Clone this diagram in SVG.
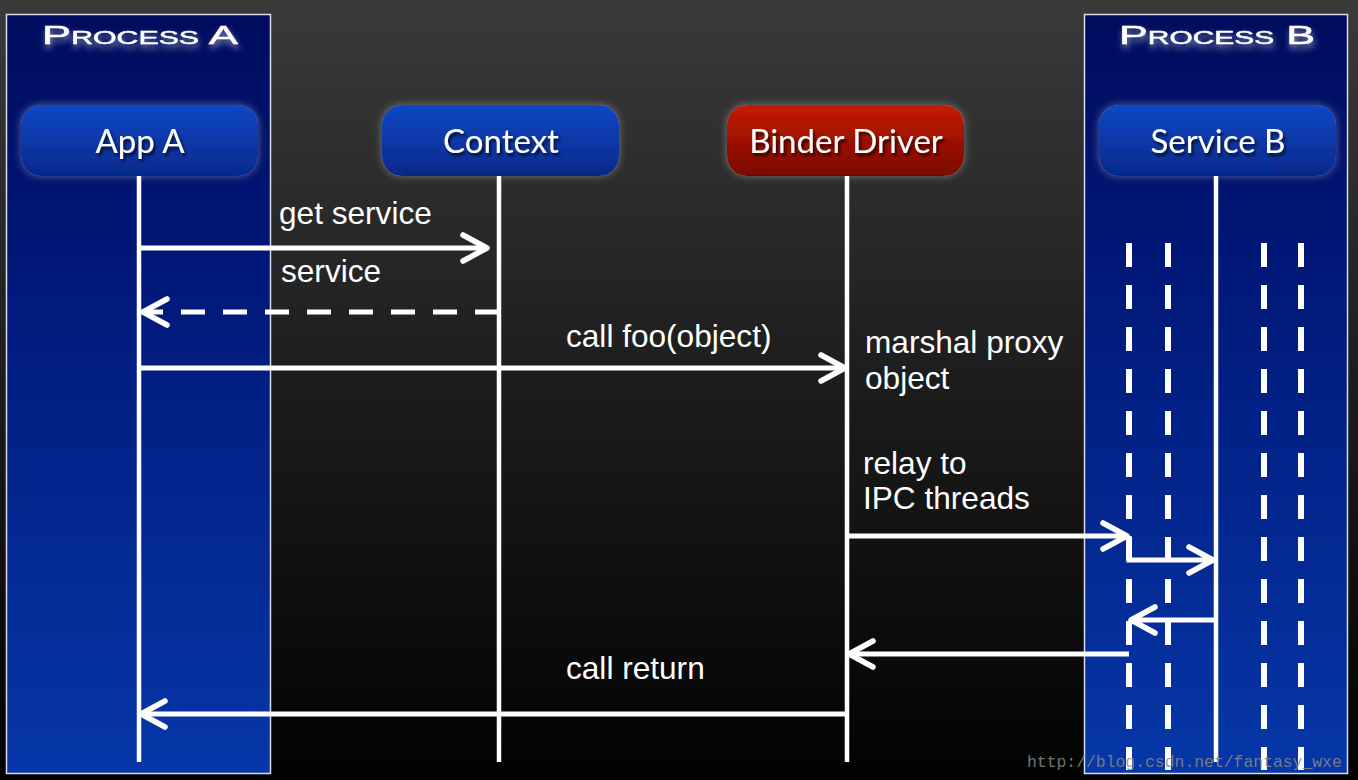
<svg xmlns="http://www.w3.org/2000/svg" width="1358" height="780" viewBox="0 0 1358 780">
<defs>
<linearGradient id="bg" x1="0" y1="0" x2="0" y2="1">
<stop offset="0" stop-color="#3a3a3a"/>
<stop offset="0.5" stop-color="#1c1c1c"/>
<stop offset="1" stop-color="#020202"/>
</linearGradient>
<linearGradient id="proc" x1="0" y1="0" x2="0" y2="1">
<stop offset="0" stop-color="#000d5e"/>
<stop offset="0.25" stop-color="#001472"/>
<stop offset="1" stop-color="#0637a8"/>
</linearGradient>
<linearGradient id="blue" x1="0" y1="0" x2="0" y2="1">
<stop offset="0" stop-color="#0c48c6"/>
<stop offset="1" stop-color="#06288a"/>
</linearGradient>
<linearGradient id="red" x1="0" y1="0" x2="0" y2="1">
<stop offset="0" stop-color="#c41c00"/>
<stop offset="1" stop-color="#780600"/>
</linearGradient>
<filter id="halo" x="-20%" y="-40%" width="140%" height="180%">
<feGaussianBlur in="SourceAlpha" stdDeviation="4"/>
<feComponentTransfer><feFuncA type="linear" slope="0.35"/></feComponentTransfer>
<feColorMatrix type="matrix" values="0 0 0 0 1  0 0 0 0 1  0 0 0 0 1  0 0 0 1 0"/>
<feMerge><feMergeNode/><feMergeNode in="SourceGraphic"/></feMerge>
</filter>
<filter id="tshadow" x="-10%" y="-30%" width="130%" height="170%">
<feGaussianBlur in="SourceAlpha" stdDeviation="1.5"/>
<feOffset dx="2" dy="3"/>
<feComponentTransfer><feFuncA type="linear" slope="0.7"/></feComponentTransfer>
<feMerge><feMergeNode/><feMergeNode in="SourceGraphic"/></feMerge>
</filter>
<filter id="tglow" x="-10%" y="-40%" width="120%" height="190%">
<feGaussianBlur in="SourceAlpha" stdDeviation="3"/>
<feOffset dx="1" dy="4"/>
<feComponentTransfer><feFuncA type="linear" slope="0.5"/></feComponentTransfer>
<feColorMatrix type="matrix" values="0 0 0 0 1  0 0 0 0 1  0 0 0 0 1  0 0 0 1 0"/>
<feMerge><feMergeNode/><feMergeNode in="SourceGraphic"/></feMerge>
</filter>
<marker id="arr" viewBox="0 0 32 32" refX="28" refY="16" markerWidth="32" markerHeight="32" markerUnits="userSpaceOnUse" orient="auto">
<path d="M4,3 L28,16 L4,29" fill="none" stroke="#fff" stroke-width="5.5" stroke-linecap="round" stroke-linejoin="round"/>
</marker>
</defs>
<style>
.proc{fill:url(#proc);stroke:#d8dcec;stroke-width:1.5}
.ptitle{font-family:"Liberation Sans",Arial,sans-serif;font-size:26px;fill:#fff;font-variant:small-caps;stroke:#fff;stroke-width:0.5}
.node text{font-family:Lato,"Open Sans",sans-serif;font-size:33px;fill:#fff;text-anchor:middle}
.life{stroke:#fff;stroke-width:4.5}
.dash{stroke:#fff;stroke-width:6;stroke-dasharray:24 18}
.msg{stroke:#fff;stroke-width:5;fill:none}
.lbl{font-family:"Liberation Sans",Arial,sans-serif;font-size:31.6px;fill:#fff}
.wm{font-family:"Liberation Mono","Courier New",monospace;font-size:16.4px;fill:#8a8a8a;fill-opacity:0.85}
</style>
<rect x="0" y="0" width="1358" height="780" fill="url(#bg)"/>

<g id="processA">
<rect class="proc" x="6.5" y="14.5" width="264" height="759"/>
<text class="ptitle" x="42" y="44" textLength="196" lengthAdjust="spacingAndGlyphs" filter="url(#tglow)">Process  A</text>
</g>
<g id="processB">
<rect class="proc" x="1084.5" y="14.5" width="263" height="759"/>
<text class="ptitle" x="1119" y="44" textLength="196" lengthAdjust="spacingAndGlyphs" filter="url(#tglow)">Process  B</text>
</g>

<g id="threads">
<line class="dash" x1="1129" y1="243" x2="1129" y2="770"/>
<line class="dash" x1="1168" y1="243" x2="1168" y2="770"/>
<line class="dash" x1="1264" y1="243" x2="1264" y2="770"/>
<line class="dash" x1="1301" y1="243" x2="1301" y2="770"/>
</g>

<g id="lifelines">
<line class="life" x1="139" y1="176" x2="139" y2="762"/>
<line class="life" x1="499" y1="176" x2="499" y2="762"/>
<line class="life" x1="847" y1="176" x2="847" y2="762"/>
<line class="life" x1="1216" y1="176" x2="1216" y2="762"/>
</g>

<g id="appA" class="node">
<rect x="21" y="105" width="237" height="71" rx="20" fill="url(#blue)" filter="url(#halo)"/>
<text x="140" y="153" filter="url(#tshadow)">App A</text>
</g>
<g id="context" class="node">
<rect x="382" y="105" width="237" height="71" rx="20" fill="url(#blue)" filter="url(#halo)"/>
<text x="501" y="153" filter="url(#tshadow)">Context</text>
</g>
<g id="binder" class="node">
<rect x="727" y="105" width="237" height="71" rx="20" fill="url(#red)" filter="url(#halo)"/>
<text x="846" y="153" filter="url(#tshadow)">Binder Driver</text>
</g>
<g id="serviceB" class="node">
<rect x="1099" y="105" width="237" height="71" rx="20" fill="url(#blue)" filter="url(#halo)"/>
<text x="1218" y="153" filter="url(#tshadow)">Service B</text>
</g>

<g id="connectors">
<line class="msg" x1="139" y1="248" x2="487" y2="248" marker-end="url(#arr)"/>
<line class="msg" x1="499" y1="312" x2="143" y2="312" stroke-dasharray="24 18" marker-end="url(#arr)"/>
<line class="msg" x1="139" y1="368" x2="845" y2="368" marker-end="url(#arr)"/>
<line class="msg" x1="847" y1="536" x2="1127" y2="536" marker-end="url(#arr)"/>
<polyline class="msg" points="1129,536 1129,560 1213,560" marker-end="url(#arr)"/>
<line class="msg" x1="1216" y1="620" x2="1131" y2="620" marker-end="url(#arr)"/>
<line class="msg" x1="1129" y1="654" x2="849" y2="654" marker-end="url(#arr)"/>
<line class="msg" x1="847" y1="714" x2="141" y2="714" marker-end="url(#arr)"/>
</g>

<g id="labels">
<text class="lbl" x="279" y="224">get service</text>
<text class="lbl" x="281" y="282">service</text>
<text class="lbl" x="566" y="347">call foo(object)</text>
<text class="lbl" x="865" y="353">marshal proxy</text>
<text class="lbl" x="865" y="389">object</text>
<text class="lbl" x="863" y="474">relay to</text>
<text class="lbl" x="863" y="509">IPC threads</text>
<text class="lbl" x="566" y="679">call return</text>
</g>

<text class="wm" x="1027" y="767">http://blog.csdn.net/fantasy_wxe</text>
</svg>
